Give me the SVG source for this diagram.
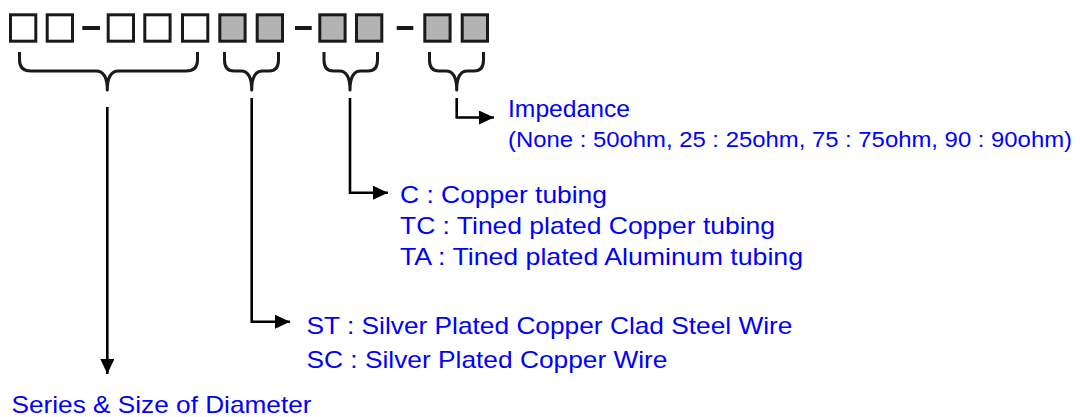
<svg xmlns="http://www.w3.org/2000/svg" width="1080" height="417" viewBox="0 0 1080 417">
<defs>
<style>
.box{fill:#ffffff;stroke:#1a1a1a;stroke-width:3}
.fill{fill:#b3b3b3;stroke:#1a1a1a;stroke-width:3}
.dash{stroke:#1a1a1a;stroke-width:4}
.brace{fill:none;stroke:#1a1a1a;stroke-width:3;stroke-linejoin:round}
.conn{fill:none;stroke:#000000;stroke-width:2.6}
.lbl{font-family:"Liberation Sans",Arial,sans-serif;font-size:24px;fill:#0000ff}
.sub{font-size:21.5px}
</style>
<marker id="arr" viewBox="0 0 15 14" refX="15" refY="7" markerWidth="15" markerHeight="14" markerUnits="userSpaceOnUse" orient="auto">
<path d="M0,0 L15,7 L0,14 Z" fill="#000000"/>
</marker>
</defs>
<rect width="1080" height="417" fill="#ffffff"/>
<g id="code">
<rect class="box" x="10.5" y="14.8" width="25.3" height="26.4"/>
<rect class="box" x="47.2" y="14.8" width="25.3" height="26.4"/>
<line class="dash" x1="82.3" y1="28" x2="100" y2="28"/>
<rect class="box" x="108.2" y="14.8" width="25.3" height="26.4"/>
<rect class="box" x="144.8" y="14.8" width="25.3" height="26.4"/>
<rect class="box" x="182.5" y="14.8" width="25.3" height="26.4"/>
<rect class="fill" x="219.8" y="14.8" width="25.3" height="26.4"/>
<rect class="fill" x="257.2" y="14.8" width="25.3" height="26.4"/>
<line class="dash" x1="295" y1="28" x2="311.7" y2="28"/>
<rect class="fill" x="319.8" y="14.8" width="25.3" height="26.4"/>
<rect class="fill" x="356.5" y="14.8" width="25.3" height="26.4"/>
<line class="dash" x1="396.7" y1="28" x2="413.3" y2="28"/>
<rect class="fill" x="424.8" y="14.8" width="25.3" height="26.4"/>
<rect class="fill" x="462.2" y="14.8" width="25.3" height="26.4"/>
</g>
<g id="braces">
<path class="brace" d="M19.5,52 L19.5,60 Q19.5,71 31,71 L96,71 Q107.3,71 107.3,90 Q107.3,71 118.6,71 L186,71 Q197.5,71 197.5,60 L197.5,52"/>
<path class="brace" d="M224.5,52 L224.5,60 Q224.5,71 234,71 L241,71 Q251.7,71 251.7,90 Q251.7,71 262.4,71 L269,71 Q278.5,71 278.5,60 L278.5,52"/>
<path class="brace" d="M324,52 L324,60 Q324,71 333.5,71 L339.3,71 Q350,71 350,90 Q350,71 360.7,71 L368,71 Q377.5,71 377.5,60 L377.5,52"/>
<path class="brace" d="M429.5,52 L429.5,60 Q429.5,71 439,71 L446,71 Q456.7,71 456.7,90 Q456.7,71 467.4,71 L474,71 Q483.5,71 483.5,60 L483.5,52"/>
</g>
<g id="connectors">
<path class="conn" d="M107.3,107 L107.3,374" marker-end="url(#arr)"/>
<path class="conn" d="M251.7,98 L251.7,321.7 L290,321.7" marker-end="url(#arr)"/>
<path class="conn" d="M350,98 L350,192.7 L388,192.7" marker-end="url(#arr)"/>
<path class="conn" d="M456.7,98 L456.7,117.5 L494,117.5" marker-end="url(#arr)"/>
</g>
<g id="impedance">
<text class="lbl" x="508" y="116.5" textLength="122" lengthAdjust="spacingAndGlyphs">Impedance</text>
<text class="lbl sub" x="508" y="146.5" textLength="564" lengthAdjust="spacingAndGlyphs">(None : 50ohm, 25 : 25ohm, 75 : 75ohm, 90 : 90ohm)</text>
</g>
<g id="tubing">
<text class="lbl" x="400" y="203" textLength="207" lengthAdjust="spacingAndGlyphs">C : Copper tubing</text>
<text class="lbl" x="400" y="234" textLength="375" lengthAdjust="spacingAndGlyphs">TC : Tined plated Copper tubing</text>
<text class="lbl" x="400" y="265" textLength="403" lengthAdjust="spacingAndGlyphs">TA : Tined plated Aluminum tubing</text>
</g>
<g id="wire">
<text class="lbl" x="306.5" y="334.3" textLength="486" lengthAdjust="spacingAndGlyphs">ST : Silver Plated Copper Clad Steel Wire</text>
<text class="lbl" x="306.5" y="368" textLength="361" lengthAdjust="spacingAndGlyphs">SC : Silver Plated Copper Wire</text>
</g>
<g id="series">
<text class="lbl" x="11.5" y="413.3" textLength="300" lengthAdjust="spacingAndGlyphs">Series &amp; Size of Diameter</text>
</g>
</svg>
